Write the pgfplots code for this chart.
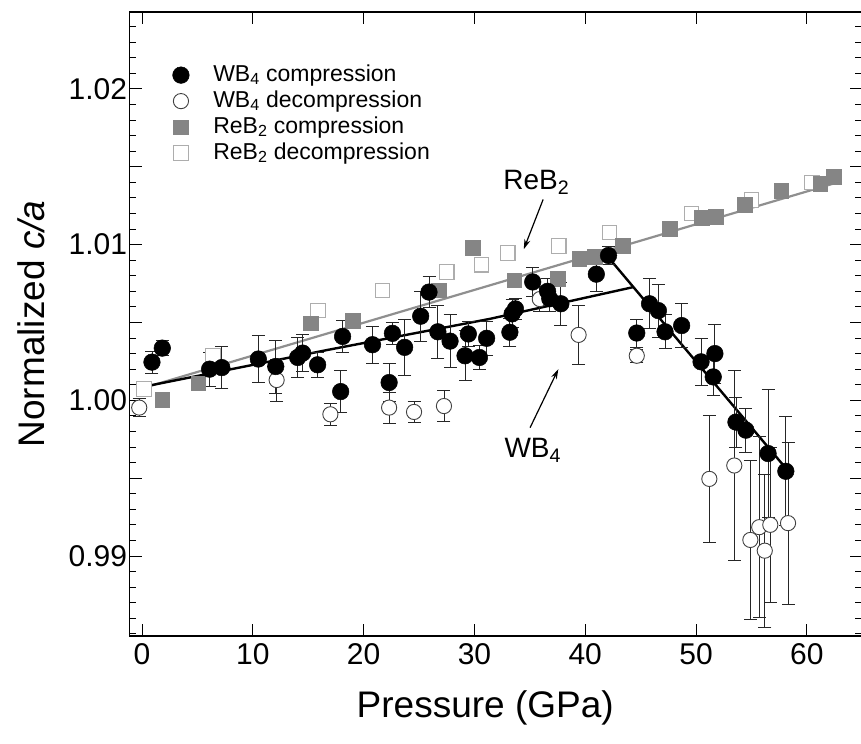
\documentclass[border=0pt]{standalone}
\usepackage{fontspec}
\setmainfont{Liberation Sans}
\usepackage{pgfplots}
\usepackage{pgfplotstable}
\pgfplotsset{compat=1.18}
\usetikzlibrary{arrows.meta,calc}
\definecolor{rebgray}{gray}{0.52}
\definecolor{reblight}{gray}{0.68}
\definecolor{linegray}{gray}{0.56}

\pgfplotstableread{
x y e
0.9 1.00245 0.0007
1.83 1.00335 0.0005
6.1 1.0020 0.0011
7.2 1.0021 0.00135
10.5 1.00265 0.0015
12.07 1.00217 0.0017
14.05 1.00275 0.0013
14.5 1.00303 0.0012
15.85 1.00228 0.0008
17.93 1.00056 0.00135
18.1 1.0041 0.001
20.8 1.00357 0.0012
22.3 1.00114 0.0012
22.6 1.0043 0.0007
23.7 1.0034 0.0018
25.15 1.0054 0.0016
25.9 1.00695 0.001
26.7 1.0044 0.0017
27.8 1.0038 0.0017
29.15 1.00286 0.0016
29.45 1.00426 0.0008
30.45 1.00275 0.0008
31.1 1.00398 0.0011
33.2 1.00437 0.0009
33.4 1.00555 0.0009
33.7 1.00587 0.0007
35.26 1.0076 0.0009
36.6 1.0070 0.0008
36.8 1.00652 0.0008
37.8 1.0062 0.0014
41.0 1.0081 0.0011
42.1 1.0093 0.0006
44.65 1.00432 0.0009
45.8 1.0062 0.0016
46.6 1.00576 0.0017
47.2 1.0044 0.0011
48.7 1.0048 0.0014
50.45 1.00247 0.0015
51.7 1.0030 0.0019
51.55 1.0015 0.0012
53.6 0.9986 0.0016
54.5 0.99808 0.0014
56.5 0.99658 0.0041
58.1 0.99544 0.0035
}\wbcomp

\pgfplotstableread{
x y e
-0.25 0.99953 0.0006
12.15 1.0013 0.00135
17.0 0.9991 0.0007
22.3 0.99953 0.001
24.55 0.99925 0.0007
27.25 0.99963 0.001
35.9 1.0065 0.0008
39.4 1.0042 0.0019
44.65 1.00286 0.0004
51.2 0.99495 0.0041
53.45 0.99581 0.0061
54.9 0.99103 0.0051
55.7 0.99185 0.0058
56.2 0.99034 0.0049
56.7 0.9920 0.0050
58.3 0.99211 0.0052
}\wbdecomp

\pgfplotstableread{
x y
1.83 1.00002
5.08 1.0011
15.25 1.00495
19.0 1.00512
26.8 1.00706
29.85 1.00979
33.6 1.0077
37.5 1.0078
39.45 1.0091
40.85 1.0092
43.4 1.00992
47.65 1.0110
50.5 1.01172
51.8 1.01178
54.4 1.01254
57.7 1.01344
61.2 1.0139
62.45 1.01437
}\rebcomp

\pgfplotstableread{
x y
0.18 1.00071
6.4 1.00286
15.9 1.00576
21.7 1.00705
27.5 1.00824
30.65 1.00871
33.0 1.00946
37.6 1.00992
42.2 1.01077
49.6 1.0120
55.0 1.01286
60.45 1.01398
}\rebdecomp

\begin{document}
\begin{tikzpicture}
\begin{axis}[
  scale only axis, width=732pt, height=624pt,
  xmin=-1.128, xmax=64.93, ymin=0.98486, ymax=1.02494,
  xtick={0,10,20,30,40,50,60},
  ytick={0.99,0.995,1.00,1.005,1.01,1.015,1.02},
  yticklabels={0.99,,1.00,,1.01,,1.02},
  minor ytick={0.985,0.986,0.987,0.988,0.989,0.991,0.992,0.993,0.994,0.996,0.997,0.998,0.999,1.001,1.002,1.003,1.004,1.006,1.007,1.008,1.009,1.011,1.012,1.013,1.014,1.016,1.017,1.018,1.019,1.021,1.022,1.023,1.024},
  tick align=inside, major tick length=12pt, minor tick length=7pt,
  tick style={black, line width=0.9pt},
  axis line style={black, line width=1.3pt},
  ticklabel style={font=\fontsize{30}{30}\selectfont},
  xticklabel style={yshift=-4pt},
  yticklabel style={xshift=1pt},
  /pgf/number format/assume math mode=true,
  xlabel={Pressure (GPa)},
  ylabel={Normalized \textit{c/a}},
  label style={font=\fontsize{37}{37}\selectfont},
  xlabel style={at={(axis description cs:0.486,-0.1154)}, anchor=center},
  ylabel style={at={(axis description cs:-0.134,0.5)}, anchor=center},
  reverse legend,
  legend cell align=left,
  legend style={at={(axis description cs:0.0587,0.92)}, anchor=north west,
    draw=none, fill=none, inner sep=0pt,
    font=\fontsize{23}{23}\selectfont,
    nodes={inner sep=2pt, text height=17pt, text depth=5pt},
    /tikz/every odd column/.append style={column sep=22pt}},
]
\coordinate (bl) at (rel axis cs:0,0);
\coordinate (tr) at (rel axis cs:1,1);

% ReB2 decompression
\addplot[only marks, mark=square*, mark size=7.3pt,
  mark options={fill=white, draw=reblight, line width=1.1pt}]
  table[x=x,y=y] {\rebdecomp};
\addlegendentry{ReB\textsubscript{2} decompression}
% ReB2 compression
\addplot[only marks, mark=square*, mark size=7.3pt,
  mark options={fill=rebgray, draw=rebgray, line width=0.5pt}]
  table[x=x,y=y] {\rebcomp};
\addlegendentry{ReB\textsubscript{2} compression}

% fit lines
\addplot[forget plot, linegray, line width=2.2pt] coordinates {(0.5,1.00087) (62.5,1.01394)};
\addplot[forget plot, black, line width=2.4pt] coordinates {(0.7,1.00095) (16.5,1.0032) (31.4,1.00523) (44.28,1.00726)};
\addplot[forget plot, black, line width=2.4pt] coordinates {(42.3,1.0090) (58.2,0.99555)};

% WB4 decompression
\addplot[only marks, mark=*, mark size=7.6pt,
  mark options={fill=white, draw=black!75, line width=0.9pt},
  error bars/.cd, y dir=both, y explicit,
  error bar style={line width=0.9pt, black!85},
  error mark options={rotate=90, mark size=6.5pt, line width=0.9pt, black!85}]
  table[x=x,y=y,y error=e] {\wbdecomp};
\addlegendentry{WB\textsubscript{4} decompression}
% WB4 compression
\addplot[only marks, mark=*, mark size=8.3pt,
  mark options={fill=black, draw=black, line width=0.5pt},
  error bars/.cd, y dir=both, y explicit,
  error bar style={line width=0.9pt, black!85},
  error mark options={rotate=90, mark size=6.5pt, line width=0.9pt, black!85}]
  table[x=x,y=y,y error=e] {\wbcomp};
\addlegendentry{WB\textsubscript{4} compression}

% annotations
\node[anchor=base west, font=\fontsize{28}{28}\selectfont, inner sep=0pt] at (axis cs:32.6,1.01355) {ReB\textsubscript{2}};
\draw[-{Stealth[length=10pt,width=6pt]}, line width=1.2pt] (axis cs:36.2,1.0129) -- (axis cs:34.45,1.0097);
\node[anchor=base west, font=\fontsize{28}{28}\selectfont, inner sep=0pt] at (axis cs:32.7,0.99632) {WB\textsubscript{4}};
\draw[-{Stealth[length=10pt,width=6pt]}, line width=1.2pt] (axis cs:35.02,0.99824) -- (axis cs:37.57,1.0020);
\end{axis}
\pgfresetboundingbox
\path[use as bounding box] ($(bl)+(-129.5pt,-108pt)$) rectangle ($(tr)+(-0.5pt,12pt)$);
\end{tikzpicture}
\end{document}
